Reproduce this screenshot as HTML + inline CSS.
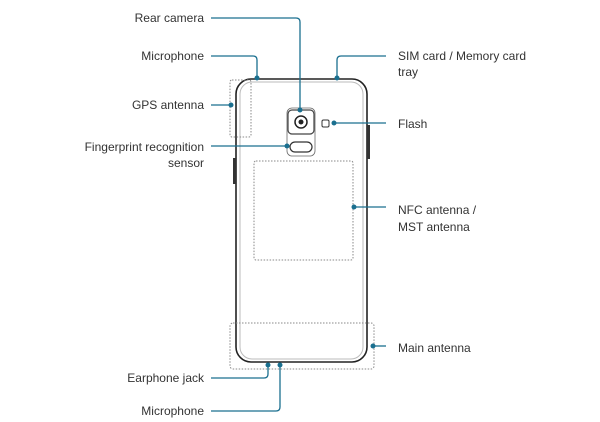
<!DOCTYPE html>
<html><head><style>
html,body{margin:0;padding:0;background:#fff;}
svg{display:block;}
text{font-family:"Liberation Sans",sans-serif;font-size:12px;fill:#333;}
</style></head><body>
<svg width="600" height="422" viewBox="0 0 600 422" xmlns="http://www.w3.org/2000/svg">
<!-- phone -->
<rect x="236" y="79" width="131" height="283" rx="15" fill="#fff" stroke="#222" stroke-width="1.6"/>
<rect x="240" y="82" width="123" height="277" rx="12" fill="none" stroke="#bbb" stroke-width="1"/>
<rect x="233" y="158" width="3" height="26" fill="#333"/>
<rect x="367" y="125" width="3" height="34" fill="#333"/>
<!-- camera module -->
<rect x="288" y="110" width="26" height="24" rx="4" fill="#fff" stroke="#444" stroke-width="1.2"/>
<rect x="287" y="108" width="28" height="48" rx="5" fill="none" stroke="#666" stroke-width="0.8"/>
<circle cx="301" cy="122" r="6" fill="#fff" stroke="#222" stroke-width="1.5"/>
<circle cx="301" cy="122" r="2.5" fill="#222"/>
<rect x="290" y="142" width="22" height="10" rx="5" fill="#fff" stroke="#333" stroke-width="1.2"/>
<rect x="322" y="120" width="7" height="7" rx="1.5" fill="#fff" stroke="#333" stroke-width="1"/>
<!-- dotted areas -->
<g fill="none" stroke="#888" stroke-width="1" stroke-dasharray="1.5,1.5">
<rect x="230" y="80" width="21" height="57" rx="2"/>
<rect x="254" y="161" width="99" height="99" rx="2"/>
<rect x="230" y="323" width="144" height="46" rx="3"/>
</g>
<!-- connectors -->
<g fill="none" stroke="#1a6f8f" stroke-width="1.3">
<path d="M211 18 H296 Q300 18 300 22 V110"/>
<path d="M211 56 H253 Q257 56 257 60 V78"/>
<path d="M337 78 V60 Q337 56 341 56 H386"/>
<path d="M211 105 H231"/>
<path d="M211 146 H287"/>
<path d="M334 123 H386"/>
<path d="M354 207 H386"/>
<path d="M373 346 H386"/>
<path d="M268 365 V374 Q268 378 264 378 H211"/>
<path d="M280 365 V407 Q280 411 276 411 H211"/>
</g>
<g fill="#1a6f8f">
<circle cx="300" cy="110" r="2.5"/><circle cx="257" cy="78" r="2.5"/><circle cx="337" cy="78" r="2.5"/>
<circle cx="231" cy="105" r="2.5"/><circle cx="287" cy="146" r="2.5"/><circle cx="334" cy="123" r="2.5"/>
<circle cx="354" cy="207" r="2.5"/><circle cx="373" cy="346" r="2.5"/><circle cx="268" cy="365" r="2.5"/><circle cx="280" cy="365" r="2.5"/>
</g>
<!-- labels -->
<g text-anchor="end">
<text x="204" y="22">Rear camera</text>
<text x="204" y="60">Microphone</text>
<text x="204" y="109">GPS antenna</text>
<text x="204" y="151">Fingerprint recognition</text>
<text x="204" y="167">sensor</text>
<text x="204" y="382">Earphone jack</text>
<text x="204" y="415">Microphone</text>
</g>
<text x="398" y="60">SIM card / Memory card</text>
<text x="398" y="76">tray</text>
<text x="398" y="128">Flash</text>
<text x="398" y="214">NFC antenna /</text>
<text x="398" y="231">MST antenna</text>
<text x="398" y="352">Main antenna</text>
</svg>
</body></html>
